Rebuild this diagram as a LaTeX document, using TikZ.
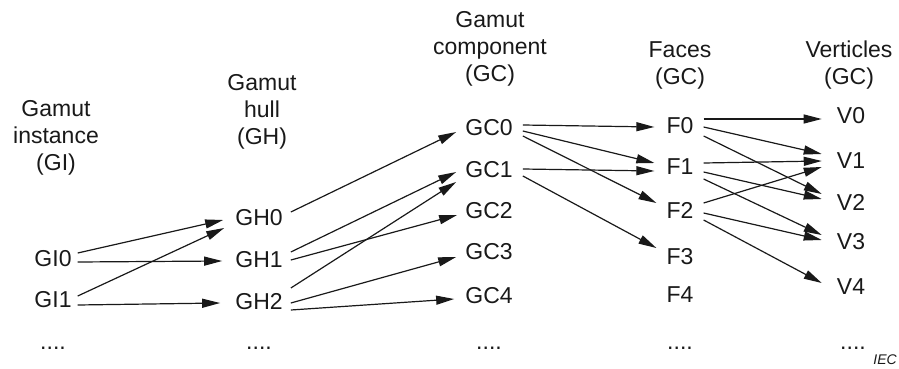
\documentclass[tikz,border=0pt]{standalone}
\usepackage{fontspec}
\setmainfont{Liberation Sans}
\usetikzlibrary{arrows.meta}
\begin{document}
\begin{tikzpicture}[x=1pt,y=-1pt,
  lbl/.style={font=\fontsize{23}{26}\selectfont, inner sep=0pt, text=black!90},
  dots/.style={font=\fontsize{23}{26}\selectfont, inner sep=0pt, anchor=base, text=black!90},
  hdr/.style={font=\fontsize{23}{27}\selectfont, align=center, inner sep=0pt, text=black!90},
  arr/.style={-{Triangle[length=18pt,width=9pt]}, line width=1.2pt, draw=black!90}]
\useasboundingbox (0,0) rectangle (899,369);
% headers
\node[hdr] (hGI) at (56,137.5) {Gamut\\instance\\(GI)};
\node[hdr] (hGH) at (262,111.5) {Gamut\\hull\\(GH)};
\node[hdr] (hGC) at (490,48.5) {Gamut\\component\\(GC)};
\node[hdr] (hF) at (680,65) {Faces\\(GC)};
\node[hdr] (hV) at (849,65) {Verticles\\(GC)};
% GI
\node[lbl] (GI0) at (53,259) {GI0};
\node[lbl] (GI1) at (53,300) {GI1};
\node[dots] (dGI) at (53,349) {....};
% GH
\node[lbl] (GH0) at (259,218) {GH0};
\node[lbl] (GH1) at (259,260) {GH1};
\node[lbl] (GH2) at (259,302) {GH2};
\node[dots] (dGH) at (259,349) {....};
% GC
\node[lbl] (GC0) at (489,128) {GC0};
\node[lbl] (GC1) at (489,170) {GC1};
\node[lbl] (GC2) at (489,211) {GC2};
\node[lbl] (GC3) at (489,252) {GC3};
\node[lbl] (GC4) at (489,296) {GC4};
\node[dots] (dGC) at (489,349) {....};
% F
\node[lbl] (F0) at (680,126) {F0};
\node[lbl] (F1) at (680,167) {F1};
\node[lbl] (F2) at (680,210) {F2};
\node[lbl] (F3) at (680,257) {F3};
\node[lbl] (F4) at (680,295) {F4};
\node[dots] (dF) at (680,349) {....};
% V
\node[lbl] (V0) at (851,116) {V0};
\node[lbl] (V1) at (851,161) {V1};
\node[lbl] (V2) at (851,202) {V2};
\node[lbl] (V3) at (851,242) {V3};
\node[lbl] (V4) at (851,287) {V4};
\node[dots] (dV) at (853,349) {....};
\node[font=\fontsize{14}{16}\selectfont\itshape, inner sep=0pt, anchor=base east, text=black!90] (iec) at (897,364) {IEC};
% GI -> GH
\draw[arr] ([shift={(6,-6)}]GI0.east) -- ([shift={(-12,2)}]GH0.west);
\draw[arr] ([shift={(6,3)}]GI0.east) -- ([shift={(-13,1)}]GH1.west);
\draw[arr] ([shift={(6,-4)}]GI1.east) -- ([shift={(-11,10)}]GH0.west);
\draw[arr] ([shift={(6,5)}]GI1.east) -- ([shift={(-15,1)}]GH2.west);
% GH -> GC
\draw[arr] ([shift={(8,-6)}]GH0.east) -- ([shift={(-9,4)}]GC0.west);
\draw[arr] ([shift={(8,-8)}]GH1.east) -- ([shift={(-9,2)}]GC1.west);
\draw[arr] ([shift={(8,0)}]GH1.east) -- ([shift={(-8,4)}]GC2.west);
\draw[arr] ([shift={(8,-14)}]GH2.east) -- ([shift={(-9,12)}]GC1.west);
\draw[arr] ([shift={(8,1)}]GH2.east) -- ([shift={(-9,5)}]GC3.west);
\draw[arr] ([shift={(8,8)}]GH2.east) -- ([shift={(-11,3)}]GC4.west);
% GC -> F
\draw[arr] ([shift={(10,-3)}]GC0.east) -- ([shift={(-12,1)}]F0.west);
\draw[arr] ([shift={(10,3)}]GC0.east) -- ([shift={(-12,-4)}]F1.west);
\draw[arr] ([shift={(10,8)}]GC0.east) -- ([shift={(-10,-7)}]F2.west);
\draw[arr] ([shift={(10,-1)}]GC1.east) -- ([shift={(-12,4)}]F1.west);
\draw[arr] ([shift={(10,6)}]GC1.east) -- ([shift={(-10,-9)}]F3.west);
% F -> V
\draw[arr] ([shift={(10,-7)}]F0.east) -- ([shift={(-15,3)}]V0.west);
\draw[arr] ([shift={(10,1)}]F0.east) -- ([shift={(-15,-7)}]V1.west);
\draw[arr] ([shift={(10,10)}]F0.east) -- ([shift={(-15,-8)}]V2.west);
\draw[arr] ([shift={(10,-4)}]F1.east) -- ([shift={(-15,0)}]V1.west);
\draw[arr] ([shift={(10,5)}]F1.east) -- ([shift={(-15,-3)}]V2.west);
\draw[arr] ([shift={(10,12)}]F1.east) -- ([shift={(-15,-7)}]V3.west);
\draw[arr] ([shift={(10,-7)}]F2.east) -- ([shift={(-15,6)}]V1.west);
\draw[arr] ([shift={(10,3)}]F2.east) -- ([shift={(-15,-2)}]V3.west);
\draw[arr] ([shift={(10,10)}]F2.east) -- ([shift={(-15,-4)}]V4.west);
\end{tikzpicture}
\end{document}
